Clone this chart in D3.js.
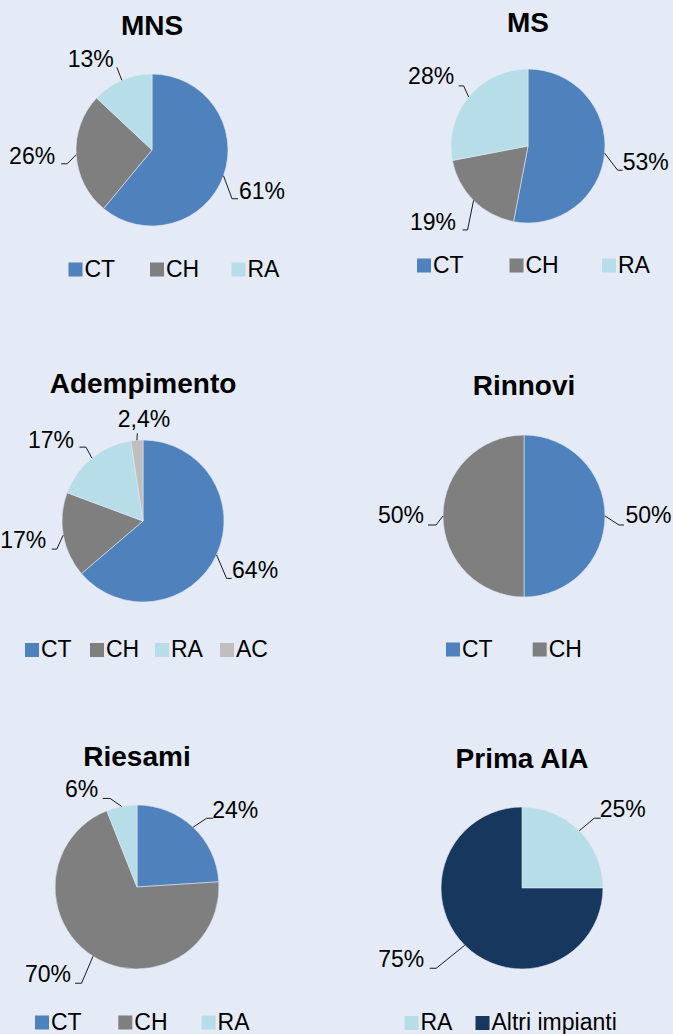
<!DOCTYPE html>
<html>
<head>
<meta charset="utf-8">
<script src="https://cdn.jsdelivr.net/npm/d3@7"></script>
<style>
  html, body { margin: 0; padding: 0; background: #E4EBF6; }
  svg { display: block; font-family: "Liberation Sans", Arial, sans-serif; }
</style>
</head>
<body>
<svg id="chart" width="673" height="1034"></svg>
<script>
// ---------- DATA ----------
const titles = ["MNS", "MS", "Adempimento", "Rinnovi", "Riesami", "Prima AIA"];

const mnsCategories = ["CT", "CH", "RA"];
const mnsValues = [61, 26, 13];

const msCategories = ["CT", "CH", "RA"];
const msValues = [53, 19, 28];

const adempimentoCategories = ["CT", "CH", "RA", "AC"];
const adempimentoValues = [64, 17, 17, 2.4];

const rinnoviCategories = ["CT", "CH"];
const rinnoviValues = [50, 50];

const riesamiCategories = ["CT", "CH", "RA"];
const riesamiValues = [24, 70, 6];

const primaCategories = ["RA", "Altri impianti"];
const primaValues = [25, 75];

const allCategories = ["CT", "CH", "RA", "AC", "Altri impianti"];

// ---------- STYLE / LAYOUT ----------
const palette = ["#4F81BD", "#7F7F7F", "#B7DEE8", "#BFBFBF", "#17375E"];
const color = d3.scaleOrdinal().domain(allCategories).range(palette);

// label params: [dx, dy, h, tdx, tdy, anchor] relative to slice edge point
const layout = [
  { cx: 152, cy: 150, r: 76, titleY: 35, legendX: 84.5, legendStep: 81.5, legendY: 276.5,
    labels: [[8.5, 23, 6, 1, 0, "start"], [-9, 9, -6, -6, 0, "end"], [-5, -13, 0, -3, 0, "end"]] },
  { cx: 528, cy: 146, r: 77, titleY: 32, legendX: 433, legendStep: 92.5, legendY: 272.5,
    labels: [[13, 17, 5, 0, 0, "start"], [-6, 29.5, -5, -6.5, 0, "end"], [-5, -11, -5, -4.5, -2, "end"]] },
  { cx: 143, cy: 521, r: 81, titleY: 393, legendX: 41, legendStep: 65, legendY: 657,
    labels: [[10, 23.5, 5, 0.5, 0, "start"], [-6.5, 14, -5, -5.5, -1, "end"], [-6, -11, -6.5, -5.5, 0.5, "end"], [0.4, -7, 0, 6.7, -6, "middle"]] },
  { cx: 524, cy: 516, r: 81, titleY: 395, legendX: 462, legendStep: 86.7, legendY: 656.5,
    labels: [[14, 9, 5, 1.5, -2, "start"], [-7, 9, -8, -4, -2, "end"]] },
  { cx: 137, cy: 887, r: 82, titleY: 766, legendX: 51, legendStep: 83.3, legendY: 1029.5,
    labels: [[13.5, -9, 6.5, -1, 0, "start"], [-11.5, 27, -6.5, -4, -1, "end"], [-11.5, -8, -7.5, -4.5, -1, "end"]] },
  { cx: 522, cy: 888, r: 81, titleY: 768, legendX: 420.5, legendStep: 71, legendY: 1030,
    labels: [[15, -12.5, 6.5, -1, -1, "start"], [-28.5, 23, -6.5, -5.5, -1, "end"]] }
];

const charts = [
  { cats: mnsCategories, vals: mnsValues },
  { cats: msCategories, vals: msValues },
  { cats: adempimentoCategories, vals: adempimentoValues },
  { cats: rinnoviCategories, vals: rinnoviValues },
  { cats: riesamiCategories, vals: riesamiValues },
  { cats: primaCategories, vals: primaValues }
];

const fmt = v => (Number.isInteger(v) ? String(v) : String(v).replace(".", ",")) + "%";

const svg = d3.select("#chart");
svg.append("rect").attr("width", 673).attr("height", 1034).attr("fill", "#E4EBF6");

const pie = d3.pie().sort(null).value(d => d.value).startAngle(0).endAngle(2 * Math.PI);

charts.forEach((c, i) => {
  const L = layout[i];
  const data = c.cats.map((k, j) => ({ cat: k, value: c.vals[j] }));
  const arcs = pie(data);
  const arc = d3.arc().innerRadius(0).outerRadius(L.r);
  const g = svg.append("g");

  // title
  g.append("text")
    .attr("x", L.cx).attr("y", L.titleY)
    .attr("text-anchor", "middle")
    .attr("font-size", 28).attr("font-weight", "bold").attr("fill", "#000")
    .text(titles[i]);

  // slices
  const pg = g.append("g").attr("transform", `translate(${L.cx},${L.cy})`);
  pg.selectAll("path").data(arcs).join("path")
    .attr("d", arc)
    .attr("fill", d => color(d.data.cat))
    .attr("stroke", "#dfe7f2").attr("stroke-width", 0.6);

  // labels with leader lines
  arcs.forEach((a, j) => {
    const p = L.labels[j];
    const mid = (a.startAngle + a.endAngle) / 2;
    const ex = L.cx + L.r * Math.sin(mid);
    const ey = L.cy - L.r * Math.cos(mid);
    const bx = ex + p[0], by = ey + p[1];
    const hx = bx + p[2];
    g.append("path")
      .attr("d", d3.line()([[ex, ey], [bx, by], [hx, by]]))
      .attr("fill", "none").attr("stroke", "#1a1a1a").attr("stroke-width", 1);
    g.append("text")
      .attr("x", hx + p[3]).attr("y", by + p[4])
      .attr("text-anchor", p[5])
      .attr("font-size", 23).attr("fill", "#000")
      .text(fmt(a.data.value));
  });

  // legend
  const lg = g.append("g");
  c.cats.forEach((k, j) => {
    const tx = L.legendX + j * L.legendStep;
    lg.append("rect")
      .attr("x", tx - 16).attr("y", L.legendY - 14)
      .attr("width", 14).attr("height", 14)
      .attr("fill", color(k));
    lg.append("text")
      .attr("x", tx).attr("y", L.legendY)
      .attr("font-size", 23).attr("fill", "#000")
      .text(k);
  });
});
</script>
</body>
</html>
